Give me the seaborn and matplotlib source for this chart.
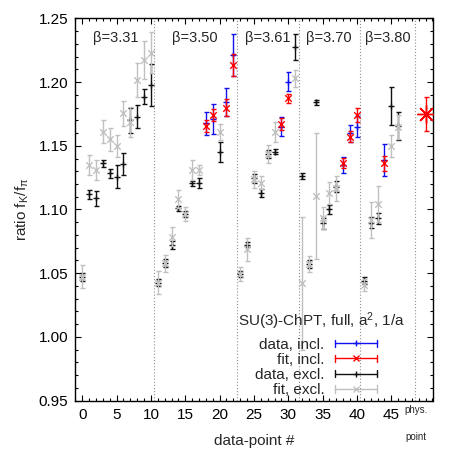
import numpy as np
import pandas as pd
import matplotlib
matplotlib.use("Agg")
import matplotlib.pyplot as plt
import seaborn as sns
from matplotlib.legend_handler import HandlerBase
from matplotlib.lines import Line2D
from matplotlib.ticker import MultipleLocator
import matplotlib.transforms as mtransforms

# ---------------- data ----------------
incl_idx = [18, 19, 21, 22, 29, 30, 38, 39, 40, 44]
data_incl = [1.1676, 1.1710, 1.1846, 1.2212, 1.1650, 1.2003, 1.1349, 1.1598, 1.1650, 1.1388]
data_incl_err = [0.0092, 0.0118, 0.0111, 0.0166, 0.0072, 0.0075, 0.0063, 0.0065, 0.0082, 0.0127]
fit_incl = [1.1655, 1.1741, 1.1799, 1.2134, 1.1671, 1.1872, 1.1362, 1.1571, 1.1741, 1.1362]
fit_incl_err = [0.0046, 0.0048, 0.0068, 0.0088, 0.0046, 0.0033, 0.0040, 0.0043, 0.0052, 0.0059]

excl_idx = [0, 1, 2, 3, 4, 5, 6, 7, 8, 9, 10, 11, 12, 13, 14, 15, 16, 17, 20,
            23, 24, 25, 26, 27, 28, 31, 32, 33, 34, 35, 36, 37, 41, 42, 43, 45, 46]
data_excl = [1.0470, 1.1119, 1.1088, 1.1362, 1.1284, 1.1257, 1.1355, 1.1700, 1.1728, 1.1885, 1.1977,
             1.0426, 1.0578, 1.0722, 1.1010, 1.0965, 1.1206, 1.1206, 1.1453,
             1.0494, 1.0722, 1.1245, 1.1127, 1.1435, 1.1453, 1.2277,
             1.1263, 1.0573, 1.1841, 1.0892, 1.1001, 1.1179,
             1.0442, 1.0897, 1.0931, 1.1812, 1.1655]
data_excl_err = [0.0030, 0.0033, 0.0060, 0.0030, 0.0033, 0.0089, 0.0085, 0.0100, 0.0088, 0.0058, 0.0163,
                 0.0030, 0.0030, 0.0030, 0.0020, 0.0020, 0.0020, 0.0040, 0.0078,
                 0.0020, 0.0020, 0.0037, 0.0030, 0.0030, 0.0020, 0.0102,
                 0.0026, 0.0030, 0.0020, 0.0043, 0.0035, 0.0043,
                 0.0026, 0.0046, 0.0042, 0.0148, 0.0111]
fit_excl = [1.0473, 1.1349, 1.1310, 1.1610, 1.1550, 1.1500, 1.1755, 1.1689, 1.2016, 1.2173, 1.2230,
            1.0426, 1.0578, 1.0787, 1.1080, 1.0965, 1.1310, 1.1310, 1.1610,
            1.0494, 1.0688, 1.1237, 1.1211, 1.1435, 1.1610, 1.2029,
            1.0421, 1.0573, 1.1106, 1.0931, 1.1132, 1.1166,
            1.0408, 1.0918, 1.1043, 1.1500, 1.1645]
fit_excl_err = [0.0089, 0.0076, 0.0078, 0.0092, 0.0089, 0.0085, 0.0098, 0.0118, 0.0130, 0.0150, 0.0163,
                0.0092, 0.0068, 0.0072, 0.0072, 0.0055, 0.0078, 0.0040, 0.0063,
                0.0055, 0.0092, 0.0065, 0.0050, 0.0068, 0.0078, 0.0068,
                0.0520, 0.0062, 0.0497, 0.0085, 0.0085, 0.0098,
                0.0048, 0.0144, 0.0140, 0.0085, 0.0094]

phys_x = [50]
phys_val = [1.1747]
phys_err = [0.0135]

separators = [10.5, 22.5, 31.5, 40.5, 48.5]
beta_labels = ["β=3.31", "β=3.50", "β=3.61", "β=3.70", "β=3.80"]
beta_label_x = [1.6, 13.1, 23.7, 32.6, 41.2]
yticks = [0.95, 1.00, 1.05, 1.10, 1.15, 1.20, 1.25]
xticks = [0, 5, 10, 15, 20, 25, 30, 35, 40, 45]
legend_title = "SU(3)-ChPT, full, a$^2$, 1/a"
series_names = ["data, incl.", "fit, incl.", "data, excl.", "fit, excl."]

# ---------------- style ----------------
sns.set_theme(style="ticks")
plt.rcParams["font.family"] = ["Liberation Sans", "DejaVu Sans"]
plt.rcParams["mathtext.fontset"] = "custom"
plt.rcParams["mathtext.rm"] = "Liberation Sans"
plt.rcParams["mathtext.it"] = "Liberation Sans"
plt.rcParams["mathtext.default"] = "regular"

BLUE = "#1010f0"
RED = "#ff0000"
BLACK = "#111111"
GRAY = "#c0c0c0"
colors = [BLUE, RED, BLACK, GRAY]
markers = ["+", "x", "+", "x"]

fig = plt.figure(figsize=(4.63, 4.63), dpi=100)
W = H = 463.0
ax = fig.add_axes([75 / W, 1 - 400.7 / H, (432.5 - 75) / W, (400.7 - 18.3) / H])

# long-form frame
frames = []
for name, idx, val, err in [
    (series_names[0], incl_idx, data_incl, data_incl_err),
    (series_names[1], incl_idx, fit_incl, fit_incl_err),
    (series_names[2], excl_idx, data_excl, data_excl_err),
    (series_names[3], excl_idx, fit_excl, fit_excl_err),
]:
    frames.append(pd.DataFrame({"x": idx, "y": val, "err": err, "series": name}))
df = pd.concat(frames, ignore_index=True)

# separators
for s in separators:
    ax.axvline(s, color="#909090", lw=0.8, ls=(0, (1, 1.8)), zorder=1)

cap = 1.8
for i, name in enumerate(series_names):
    sub = df[df.series == name]
    ax.errorbar(sub.x, sub.y, yerr=sub.err, fmt="none", ecolor=colors[i],
                elinewidth=1.0, capsize=cap, capthick=1.0, zorder=2 + i)
    sns.scatterplot(data=sub, x="x", y="y", ax=ax, marker=markers[i], color=colors[i],
                    s=22, linewidth=1.0, legend=False, zorder=2.5 + i)

# physical point
ax.errorbar(phys_x, phys_val, yerr=phys_err, fmt="none", ecolor=RED,
            elinewidth=1.0, capsize=cap, capthick=1.0, zorder=8)
ax.plot(phys_x, phys_val, marker=(8, 2, 0), ms=13, color=RED, mew=1.0, ls="none", zorder=9)

# axes
ax.set_xlim(-1.06, 51.0)
ax.set_ylim(0.95, 1.25)
ax.set_xticks(xticks)
ax.set_yticks(yticks)
ax.set_yticklabels([f"{v:.2f}" for v in yticks])
ax.xaxis.set_minor_locator(MultipleLocator(1))
ax.yaxis.set_minor_locator(MultipleLocator(0.01))
ax.tick_params(which="both", direction="in", top=True, right=True, colors="black",
               labelsize=11, width=0.8)
ax.tick_params(which="major", length=4.5, pad=5)
ax.tick_params(which="minor", length=2.2)
for sp in ax.spines.values():
    sp.set_color("black")
    sp.set_linewidth(1.0)
ax.set_xlabel("data-point #", fontsize=11, labelpad=9)
ax.set_ylabel(r"ratio f$_{K}$/f$_{\pi}$", fontsize=11, labelpad=5)

# beta labels
for bx, bl in zip(beta_label_x, beta_labels):
    ax.text(bx, 1.2345, bl, fontsize=10.5, ha="left", va="center")

# phys. point label
trans = mtransforms.blended_transform_factory(ax.transData, ax.transAxes)
ax.text(48.6, -0.025, "phys.", transform=trans, fontsize=7, ha="center", va="center")
ax.text(48.6, -0.095, "point", transform=trans, fontsize=7, ha="center", va="center")


# legend
class HBar(HandlerBase):
    def create_artists(self, legend, orig_handle, xdescent, ydescent, width, height,
                       fontsize, trans):
        c = orig_handle.get_color()
        m = orig_handle.get_marker()
        y = height / 2 - ydescent
        x0 = -xdescent
        x1 = x0 + width
        h = 2.6
        arts = [Line2D([x0, x1], [y, y], color=c, lw=1.0, transform=trans),
                Line2D([x0, x0], [y - h, y + h], color=c, lw=1.0, transform=trans),
                Line2D([x1, x1], [y - h, y + h], color=c, lw=1.0, transform=trans),
                Line2D([(x0 + x1) / 2], [y], marker=m, ms=5, mew=1.0, color=c,
                       ls="none", transform=trans)]
        return arts


handles = [Line2D([], [], color=colors[i], marker=markers[i]) for i in range(4)]
leg = ax.legend(handles, series_names, loc="lower right",
                bbox_to_anchor=((383 - 75) / (432.5 - 75), -0.007),
                markerfirst=False, frameon=False, fontsize=11,
                handlelength=2.75, handletextpad=0.7, labelspacing=0.08,
                borderaxespad=0.0, handler_map={Line2D: HBar()})
fig.text(321.7 / W, 1 - 321.7 / H, legend_title, fontsize=11, ha="center", va="center")

fig.savefig("out.png", dpi=100)
